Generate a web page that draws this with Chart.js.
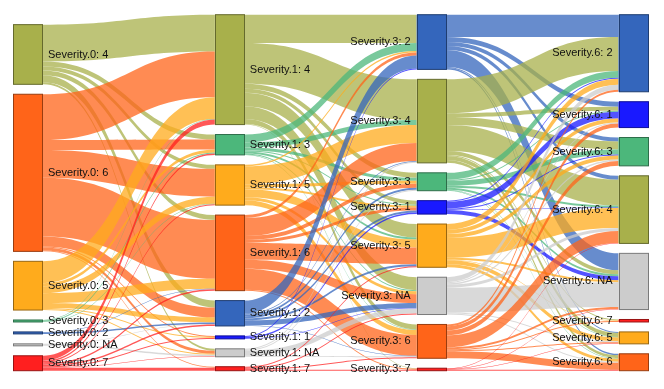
<!DOCTYPE html>
<html>
<head>
<meta charset="utf-8">
<script src="https://cdn.jsdelivr.net/npm/chart.js@4.4.0/dist/chart.umd.min.js"></script>
<style>
  body { margin: 0; background: #fff; }
</style>
</head>
<body>
<canvas id="sankey" width="664" height="389"></canvas>
<script>
// stages and the order of the categories inside each stage (top to bottom)
const stages = ['Severity.0', 'Severity.1', 'Severity.3', 'Severity.6'];
const order0 = ['4', '6', '5', '3', '2', 'NA', '7'];
const order1 = ['4', '3', '5', '6', '2', '1', 'NA', '7'];
const order3 = ['2', '4', '3', '1', '5', 'NA', '6', '7'];
const order6 = ['2', '1', '3', '4', 'NA', '7', '5', '6'];

// [from, to, count]
const flows01 = [
  ['4', '4', 37], ['4', '3', 5], ['4', '5', 4], ['4', '6', 5], ['4', '2', 7], ['4', 'NA', 2],
  ['6', '4', 46], ['6', '3', 10], ['6', '5', 28], ['6', '6', 59], ['6', '2', 10], ['6', '1', 1], ['6', 'NA', 3], ['6', '7', 1],
  ['5', '4', 22], ['5', '3', 3], ['5', '5', 7], ['5', '6', 10], ['5', '2', 5], ['5', '1', 1], ['5', 'NA', 1],
  ['3', '4', 0.5], ['3', '3', 1], ['3', '5', 0.5],
  ['2', '6', 0.5], ['2', '2', 1.5],
  ['NA', '2', 0.5], ['NA', 'NA', 1.5],
  ['7', '4', 5], ['7', '3', 1.5], ['7', '5', 1], ['7', '6', 1.5], ['7', '2', 1.5], ['7', '1', 1], ['7', 'NA', 0.5], ['7', '7', 3]
];
const flows13 = [
  ['4', '2', 28.5], ['4', '4', 41], ['4', '3', 5], ['4', '1', 4], ['4', '5', 13.5], ['4', 'NA', 13], ['4', '6', 5], ['4', '7', 0.5],
  ['3', '2', 8], ['3', '4', 5], ['3', '3', 3], ['3', '1', 1], ['3', '5', 2], ['3', 'NA', 1], ['3', '6', 0.5],
  ['5', '2', 1.5], ['5', '4', 18], ['5', '3', 3], ['5', '1', 2], ['5', '5', 8], ['5', 'NA', 3], ['5', '6', 5],
  ['6', '2', 3], ['6', '4', 18], ['6', '3', 4], ['6', '1', 3], ['6', '5', 17], ['6', 'NA', 9], ['6', '6', 21], ['6', '7', 1],
  ['2', '2', 13], ['2', '4', 1], ['2', '3', 2], ['2', '1', 2], ['2', '5', 2], ['2', 'NA', 5], ['2', '6', 0.5],
  ['1', '2', 1], ['1', '1', 1.5], ['1', 'NA', 0.5],
  ['NA', 'NA', 5], ['NA', '3', 1], ['NA', '4', 1], ['NA', '6', 1],
  ['7', '5', 1], ['7', 'NA', 1], ['7', '6', 1], ['7', '7', 1]
];
const flows36 = [
  ['2', '2', 22.5], ['2', '1', 5], ['2', '3', 4], ['2', '4', 4], ['2', 'NA', 17], ['2', '5', 1], ['2', '6', 1.5],
  ['4', '2', 34], ['4', '1', 4], ['4', '3', 8], ['4', '4', 26], ['4', 'NA', 4], ['4', '5', 4], ['4', '6', 3], ['4', '7', 1],
  ['3', '2', 7], ['3', '1', 1], ['3', '3', 5], ['3', '4', 2], ['3', 'NA', 2], ['3', '5', 0.5], ['3', '6', 0.5],
  ['1', '2', 1], ['1', '1', 7], ['1', '3', 1], ['1', '4', 0.5], ['1', 'NA', 4],
  ['5', '2', 6], ['5', '1', 4], ['5', '3', 4], ['5', '4', 20], ['5', 'NA', 2], ['5', '5', 4], ['5', '6', 3], ['5', '7', 0.5],
  ['NA', '2', 5], ['NA', '1', 1], ['NA', '3', 1.5], ['NA', '4', 3], ['NA', 'NA', 25], ['NA', '5', 1], ['NA', '6', 1],
  ['6', '2', 2], ['6', '1', 4], ['6', '3', 5], ['6', '4', 12], ['6', 'NA', 2], ['6', '5', 1], ['6', '6', 7], ['6', '7', 1],
  ['7', '4', 0.5], ['7', 'NA', 0.5], ['7', '5', 0.5], ['7', '6', 1]
];

const orders = [order0, order1, order3, order6];
const flows = [flows01, flows13, flows36];

const colors = {
  '4': '#a8b04b', '6': '#ff6419', '5': '#ffab1c', '3': '#4cb77b',
  '2': '#3466bc', '1': '#1919ff', 'NA': '#cccccc', '7': '#ff1f1f'
};
const NODE_W = 30;
const NODE_PAD = 10;

function rgb(hex) {
  return [1, 3, 5].map(i => parseInt(hex.substr(i, 2), 16));
}
function rgba(hex, a) {
  return 'rgba(' + rgb(hex).join(',') + ',' + a + ')';
}
function darker(hex) {
  return 'rgb(' + rgb(hex).map(v => Math.round(v * 0.6)).join(',') + ')';
}

// node sizes = max(in, out)
function sum(list, key, cat) {
  return list ? list.filter(f => f[key] === cat).reduce((s, f) => s + f[2], 0) : 0;
}
const columns = orders.map((ord, c) => ord.map(cat => ({
  cat: cat,
  col: c,
  value: Math.max(sum(flows[c - 1], 1, cat), sum(flows[c], 0, cat))
})));
const colTotals = columns.map(col => col.reduce((s, n) => s + n.value, 0) + (col.length - 1) * NODE_PAD);
const yMax = Math.max(...colTotals);

// stack nodes, columns aligned to the bottom
columns.forEach((col, c) => {
  let y = yMax - colTotals[c];
  col.forEach(n => {
    n.y0 = y;
    n.y1 = y + n.value;
    n.outY = y;
    n.inY = y;
    y = n.y1 + NODE_PAD;
  });
});

function findNode(c, cat) {
  return columns[c].find(n => n.cat === cat);
}

// links: sorted by target order at the source side and by source order at the target side
const links = [];
flows.forEach((list, c) => {
  list.forEach(f => links.push({ c: c, s: findNode(c, f[0]), t: findNode(c + 1, f[1]), v: f[2] }));
});
columns.forEach((col, c) => {
  col.forEach(n => {
    links.filter(l => l.c === c && l.s === n)
      .sort((a, b) => orders[c + 1].indexOf(a.t.cat) - orders[c + 1].indexOf(b.t.cat))
      .forEach(l => { l.sy0 = n.outY; n.outY += l.v; l.sy1 = n.outY; });
    links.filter(l => l.c === c - 1 && l.t === n)
      .sort((a, b) => orders[c - 1].indexOf(a.s.cat) - orders[c - 1].indexOf(b.s.cat))
      .forEach(l => { l.ty0 = n.inY; n.inY += l.v; l.ty1 = n.inY; });
  });
});

const sankeyPlugin = {
  id: 'sankey',
  afterDraw(chart) {
    const ctx = chart.ctx;
    const xs = chart.scales.x;
    const ys = chart.scales.y;
    ctx.save();

    links.forEach(l => {
      const x0 = xs.getPixelForValue(l.c) + NODE_W;
      const x1 = xs.getPixelForValue(l.c + 1);
      const xm = (x0 + x1) / 2;
      const a0 = ys.getPixelForValue(l.sy0), a1 = ys.getPixelForValue(l.sy1);
      const b0 = ys.getPixelForValue(l.ty0), b1 = ys.getPixelForValue(l.ty1);
      ctx.beginPath();
      ctx.moveTo(x0, a0);
      ctx.bezierCurveTo(xm, a0, xm, b0, x1, b0);
      ctx.lineTo(x1, b1);
      ctx.bezierCurveTo(xm, b1, xm, a1, x0, a1);
      ctx.closePath();
      ctx.fillStyle = rgba(colors[l.s.cat], 0.75);
      ctx.fill();
    });

    ctx.font = '11px "Liberation Sans", Arial, sans-serif';
    ctx.textBaseline = 'middle';
    columns.forEach((col, c) => {
      col.forEach(n => {
        const x = xs.getPixelForValue(c);
        const top = ys.getPixelForValue(n.y0);
        const bot = ys.getPixelForValue(n.y1);
        ctx.fillStyle = colors[n.cat];
        ctx.fillRect(x, top, NODE_W, bot - top);
        ctx.strokeStyle = darker(colors[n.cat]);
        ctx.lineWidth = 1;
        ctx.strokeRect(Math.round(x) + 0.5, top, NODE_W - 1, Math.max(bot - top, 0.5));
      });
    });
    columns.forEach((col, c) => {
      col.forEach(n => {
        const x = xs.getPixelForValue(c);
        const mid = (ys.getPixelForValue(n.y0) + ys.getPixelForValue(n.y1)) / 2;
        const text = stages[c] + ': ' + n.cat;
        ctx.fillStyle = '#111';
        if (c < 2) {
          ctx.textAlign = 'left';
          ctx.fillText(text, x + NODE_W + 5, mid);
        } else {
          ctx.textAlign = 'right';
          ctx.fillText(text, x - 6, mid);
        }
      });
    });
    ctx.restore();
  }
};

new Chart(document.getElementById('sankey'), {
  type: 'scatter',
  data: { datasets: [{ data: [] }] },
  options: {
    responsive: false,
    animation: false,
    layout: { padding: { left: 13, right: 45.5, top: 14.7, bottom: 18.3 } },
    scales: {
      x: { type: 'linear', min: 0, max: stages.length - 1, display: false },
      y: { type: 'linear', min: 0, max: yMax, reverse: true, display: false }
    },
    plugins: { legend: { display: false }, tooltip: { enabled: false } }
  },
  plugins: [sankeyPlugin]
});
</script>
</body>
</html>
